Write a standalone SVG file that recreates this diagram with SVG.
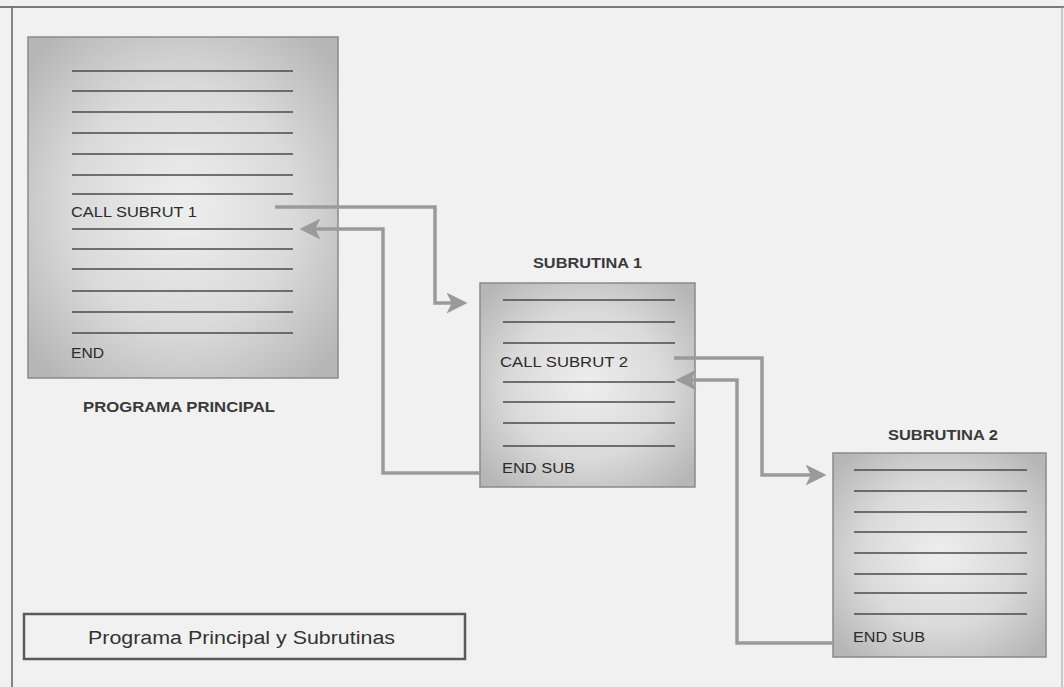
<svg xmlns="http://www.w3.org/2000/svg" width="1064" height="687" viewBox="0 0 1064 687">
<defs>
<radialGradient id="boxg" cx="0.5" cy="0.5" r="0.65">
<stop offset="0" stop-color="#eeeeee"/>
<stop offset="0.55" stop-color="#dadada"/>
<stop offset="1" stop-color="#b6b6b6"/>
</radialGradient>
<marker id="ah" markerWidth="6" markerHeight="6" refX="5" refY="3" orient="auto" markerUnits="strokeWidth">
<path d="M0,0 L6,3 L0,6 L1.5,3 Z" fill="#9a9a9a"/>
</marker>
<style>
.box{fill:url(#boxg);stroke:#8a8a8a;stroke-width:1.5}
.ln{stroke:#4a4a4a;stroke-width:1.6}
.t{font-family:"Liberation Sans",Arial,sans-serif;font-size:15px;fill:#2a2a2a}
.h{font-family:"Liberation Sans",Arial,sans-serif;font-size:15.5px;fill:#3a3a3a;font-weight:bold}
.c{fill:none;stroke:#9a9a9a;stroke-width:3.5;marker-end:url(#ah)}
</style>
</defs>
<rect width="1064" height="687" fill="#f1f1f1"/>
<g id="frame">
<line x1="0" y1="7" x2="1064" y2="7" stroke="#7a7a7a" stroke-width="2"/>
<line x1="12" y1="7" x2="12" y2="687" stroke="#6a6a6a" stroke-width="1.6"/>
<line x1="1062" y1="7" x2="1062" y2="687" stroke="#aaaaaa" stroke-width="1.2"/>
</g>
<g id="programa-principal">
<rect class="box" x="28" y="37" width="310" height="341"/>
<g class="ln">
<line x1="72" y1="71" x2="293" y2="71"/>
<line x1="72" y1="91" x2="293" y2="91"/>
<line x1="72" y1="112" x2="293" y2="112"/>
<line x1="72" y1="133" x2="293" y2="133"/>
<line x1="72" y1="154" x2="293" y2="154"/>
<line x1="72" y1="175" x2="293" y2="175"/>
<line x1="72" y1="194" x2="293" y2="194"/>
<line x1="72" y1="229" x2="293" y2="229"/>
<line x1="72" y1="249" x2="293" y2="249"/>
<line x1="72" y1="269" x2="293" y2="269"/>
<line x1="72" y1="291" x2="293" y2="291"/>
<line x1="72" y1="312" x2="293" y2="312"/>
<line x1="72" y1="333" x2="293" y2="333"/>
</g>
<text class="t" x="71" y="217" textLength="126" lengthAdjust="spacingAndGlyphs">CALL SUBRUT 1</text>
<text class="t" x="71" y="358" textLength="33" lengthAdjust="spacingAndGlyphs">END</text>
<text class="h" x="83" y="412" textLength="192" lengthAdjust="spacingAndGlyphs">PROGRAMA PRINCIPAL</text>
</g>
<g id="subrutina-1">
<rect class="box" x="480" y="283" width="215" height="204"/>
<g class="ln">
<line x1="503" y1="300" x2="675" y2="300"/>
<line x1="503" y1="322" x2="675" y2="322"/>
<line x1="503" y1="343" x2="675" y2="343"/>
<line x1="503" y1="382" x2="675" y2="382"/>
<line x1="503" y1="402" x2="675" y2="402"/>
<line x1="503" y1="423" x2="675" y2="423"/>
<line x1="503" y1="446" x2="675" y2="446"/>
</g>
<text class="t" x="500" y="367" textLength="128" lengthAdjust="spacingAndGlyphs">CALL SUBRUT 2</text>
<text class="t" x="502" y="473" textLength="73" lengthAdjust="spacingAndGlyphs">END SUB</text>
<text class="h" x="533" y="268" textLength="109" lengthAdjust="spacingAndGlyphs">SUBRUTINA 1</text>
</g>
<g id="subrutina-2">
<rect class="box" x="833" y="453" width="213" height="204"/>
<g class="ln">
<line x1="854" y1="470" x2="1027" y2="470"/>
<line x1="854" y1="491" x2="1027" y2="491"/>
<line x1="854" y1="512" x2="1027" y2="512"/>
<line x1="854" y1="532" x2="1027" y2="532"/>
<line x1="854" y1="553" x2="1027" y2="553"/>
<line x1="854" y1="574" x2="1027" y2="574"/>
<line x1="854" y1="593" x2="1027" y2="593"/>
<line x1="854" y1="614" x2="1027" y2="614"/>
</g>
<text class="t" x="853" y="642" textLength="72" lengthAdjust="spacingAndGlyphs">END SUB</text>
<text class="h" x="888" y="440" textLength="110" lengthAdjust="spacingAndGlyphs">SUBRUTINA 2</text>
</g>
<g id="caption">
<rect x="24" y="614" width="441" height="45" fill="none" stroke="#5a5a5a" stroke-width="2.5"/>
<text x="88" y="644" font-family="'Liberation Sans',Arial,sans-serif" font-size="18" fill="#333" textLength="307" lengthAdjust="spacingAndGlyphs">Programa Principal y Subrutinas</text>
</g>
<g id="connectors">
<polyline class="c" points="275,207 435,207 435,303 464,303"/>
<polyline class="c" points="480,473 383,473 383,229 303,229"/>
<polyline class="c" points="674,358 762,358 762,475 823,475"/>
<polyline class="c" points="833,643 737,643 737,380 679,380"/>
</g>
</svg>
